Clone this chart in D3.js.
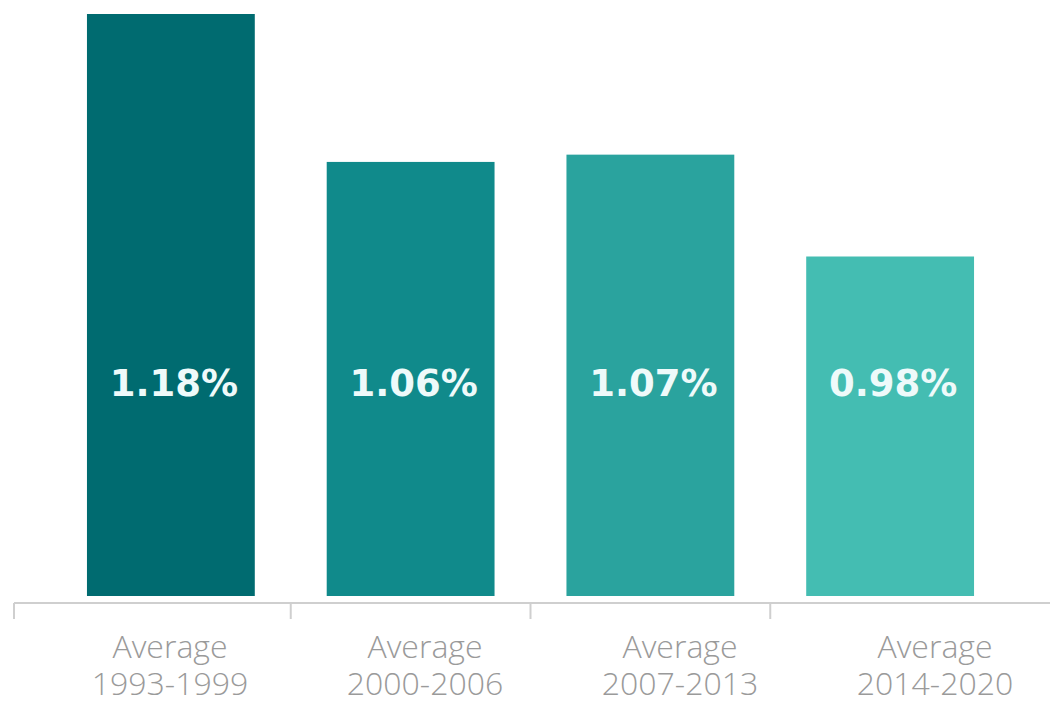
<!DOCTYPE html>
<html>
<head>
<meta charset="utf-8">
<script src="https://cdn.jsdelivr.net/npm/d3@7"></script>
<style>
  html, body { margin: 0; padding: 0; background: #ffffff; }
  svg { display: block; }
</style>
</head>
<body>
<svg id="chart" width="1050" height="704"></svg>
<script>
// ---- data ----
const categories = ["1993-1999", "2000-2006", "2007-2013", "2014-2020"];
const labelPrefix = "Average";
const values = [1.18, 1.058, 1.064, 0.98];
const valueLabels = ["1.18%", "1.06%", "1.07%", "0.98%"];
const barColors = ["#006b70", "#108a8b", "#2aa39e", "#44bdb2"];

// ---- layout ----
const W = 1050, H = 704;
const baseY = 596, topY = 14, axisY = 603;
const svg = d3.select("#chart");

const x = d3.scaleBand()
  .domain(categories)
  .range([51, 1010])
  .paddingInner(0.3)
  .paddingOuter(0.15);

const xLabel = d3.scalePoint()
  .domain(categories)
  .range([170, 935]);

const y = d3.scaleLinear()
  .domain([0.70, 1.18])
  .range([baseY, topY]);

// bars
svg.append("g").selectAll("rect")
  .data(categories)
  .join("rect")
  .attr("x", d => x(d))
  .attr("width", x.bandwidth())
  .attr("y", (d, i) => y(values[i]))
  .attr("height", (d, i) => baseY - y(values[i]))
  .attr("fill", (d, i) => barColors[i]);

// value labels
svg.append("g").selectAll("text")
  .data(categories)
  .join("text")
  .attr("x", d => x(d) + x.bandwidth() / 2 + 3)
  .attr("y", 383)
  .attr("text-anchor", "middle")
  .attr("dominant-baseline", "central")
  .attr("font-family", "DejaVu Sans, sans-serif")
  .attr("font-weight", "bold")
  .attr("font-size", 37)
  .attr("fill", "#eefafa")
  .text((d, i) => valueLabels[i]);

// axis line
const axisStart = 14;
svg.append("line")
  .attr("x1", axisStart).attr("x2", W)
  .attr("y1", axisY).attr("y2", axisY)
  .attr("stroke", "#cfcfcf")
  .attr("stroke-width", 2);

// ticks: at axis start and at boundaries between bands
const step = x.step();
const tickXs = [axisStart].concat(categories.slice(1).map(d => x(d) - step * x.paddingInner() / 2));
svg.append("g").selectAll("line")
  .data(tickXs)
  .join("line")
  .attr("x1", d => d).attr("x2", d => d)
  .attr("y1", axisY).attr("y2", axisY + 16)
  .attr("stroke", "#cfcfcf")
  .attr("stroke-width", 2);

// category labels
const lab = svg.append("g").selectAll("text")
  .data(categories)
  .join("text")
  .attr("x", d => xLabel(d))
  .attr("text-anchor", "middle")
  .attr("font-family", "Open Sans, sans-serif")
  .attr("font-weight", 300)
  .attr("font-size", 32)
  .attr("fill", "#9a9a9a");
lab.append("tspan").attr("x", d => xLabel(d)).attr("y", 658).text(labelPrefix);
lab.append("tspan").attr("x", d => xLabel(d)).attr("y", 695).text(d => d);
</script>
</body>
</html>
